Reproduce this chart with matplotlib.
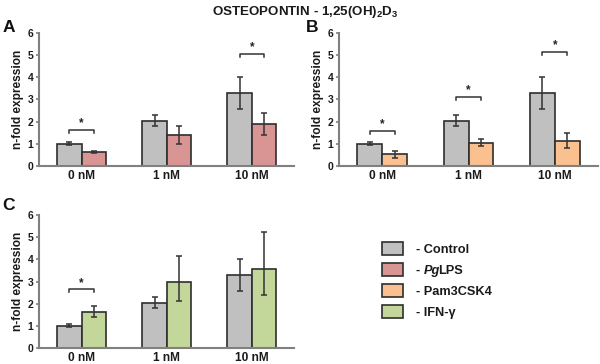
import matplotlib
matplotlib.use("Agg")
import matplotlib.pyplot as plt
from matplotlib.patches import Rectangle
import numpy as np

plt.rcParams['font.family'] = ['Liberation Sans', 'DejaVu Sans']
plt.rcParams['font.weight'] = 'bold'
plt.rcParams['mathtext.fontset'] = 'custom'
plt.rcParams['mathtext.rm'] = 'Liberation Sans:bold'
plt.rcParams['mathtext.it'] = 'Liberation Sans:bold:italic'
plt.rcParams['mathtext.bf'] = 'Liberation Sans:bold'

# ---- data ----
groups = ['0 nM', '1 nM', '10 nM']
control = [1.00, 2.05, 3.30]
control_err = [0.07, 0.26, 0.73]
pglps = [0.63, 1.39, 1.90]
pglps_err = [0.06, 0.42, 0.49]
pam = [0.53, 1.06, 1.15]
pam_err = [0.16, 0.15, 0.32]
ifn = [1.62, 2.97, 3.56]
ifn_err_lo = [0.24, 0.85, 1.15]
ifn_err_hi = [0.28, 1.19, 1.67]

sig_A = [(0, 1.63), (2, 5.05)]
sig_B = [(0, 1.58), (1, 3.12), (2, 5.14)]
sig_C = [(0, 2.65)]

# legend label pieces: (text, italic)
legend_labels = [[('- Control', False)],
                 [('- ', False), ('Pg', True), ('LPS', False)],
                 [('- Pam3CSK4', False)],
                 [('- IFN-γ', False)]]
colors = ['#c0c0c0', '#d99594', '#fac090', '#c4d79b']
edge = '#2e2e2e'

fig = plt.figure(figsize=(6.0, 3.64), dpi=100)
W, H = 600.0, 364.0

def make_ax(x0, x1, ytop, ybot):
    return fig.add_axes([x0 / W, 1 - ybot / H, (x1 - x0) / W, (ybot - ytop) / H])

axA = make_ax(39, 294.5, 33, 166)
axB = make_ax(339, 598, 33, 166)
axC = make_ax(39, 294.5, 215, 348)

bw = 0.287
x = np.arange(len(groups))

def draw(ax, treat, terr, tcolor, sigs):
    ax.bar(x - bw / 2, control, bw, color=colors[0], edgecolor=edge, linewidth=1.2, zorder=2)
    ax.bar(x + bw / 2, treat, bw, color=tcolor, edgecolor=edge, linewidth=1.2, zorder=2)
    ax.errorbar(x - bw / 2, control, yerr=control_err, fmt='none', ecolor='#333333',
                elinewidth=1.1, capsize=2, capthick=1.1, zorder=3)
    ax.errorbar(x + bw / 2, treat, yerr=terr, fmt='none', ecolor='#333333',
                elinewidth=1.1, capsize=2, capthick=1.1, zorder=3)
    for g, h in sigs:
        ax.plot([g - bw / 2, g - bw / 2, g + bw / 2, g + bw / 2],
                [h - 0.13, h, h, h - 0.13], color='#333333', lw=1.1, zorder=3)
        ax.text(g, h + 0.02, '*', ha='center', va='bottom', fontsize=8.5, color='#222222')
    ax.set_xlim(-0.5, 2.5)
    ax.set_ylim(0, 6)
    ax.set_yticks(range(0, 7))
    ax.set_xticks(x)
    ax.set_xticklabels(groups, fontsize=8.6, fontweight='bold', color='#1a1a1a')
    ax.tick_params(axis='x', length=0, pad=3)
    ax.tick_params(axis='y', length=2.5, width=1.2, color='#808080', labelsize=7.5,
                   labelcolor='#1a1a1a', pad=1.5)
    for s in ['top', 'right']:
        ax.spines[s].set_visible(False)
    for s in ['left', 'bottom']:
        ax.spines[s].set_color('#808080')
        ax.spines[s].set_linewidth(1.5)
    ax.set_ylabel('n-fold expression', fontsize=8.6, fontweight='bold', color='#1a1a1a', labelpad=3)

draw(axA, pglps, pglps_err, colors[1], sig_A)
draw(axB, pam, pam_err, colors[2], sig_B)
draw(axC, ifn, [ifn_err_lo, ifn_err_hi], colors[3], sig_C)

fig.text(305 / W, 1 - 12 / H, 'OSTEOPONTIN - 1,25(OH)$_2$D$_3$', ha='center', va='center',
         fontsize=9.6, fontweight='bold', color='#1a1a1a')
fig.text(3 / W, 1 - 27 / H, 'A', ha='left', va='center', fontsize=12.5, fontweight='bold', color='#111111')
fig.text(306 / W, 1 - 27 / H, 'B', ha='left', va='center', fontsize=12.5, fontweight='bold', color='#111111')
fig.text(2 / W, 1 - 206 / H, 'C', ha='left', va='center', fontsize=12.5, fontweight='bold', color='#111111')

# legend (manual, figure pixel layout)
renderer = fig.canvas.get_renderer()
row_y = [248.5, 269.3, 290.5, 311.3]
for c, pieces, yc in zip(colors, legend_labels, row_y):
    fig.add_artist(Rectangle((382 / W, 1 - (yc + 6.5) / H), 21 / W, 13 / H,
                             transform=fig.transFigure, facecolor=c, edgecolor=edge, linewidth=1.2))
    cur = 416.0
    for txt, ital in pieces:
        t = fig.text(cur / W, 1 - (yc + 4.6) / H, txt, ha='left', va='baseline', fontsize=9.2,
                     fontweight='bold', fontstyle='italic' if ital else 'normal', color='#1a1a1a')
        cur += t.get_window_extent(renderer).width - (1.5 if ital else 0.0)

fig.savefig('out.png', dpi=100)
